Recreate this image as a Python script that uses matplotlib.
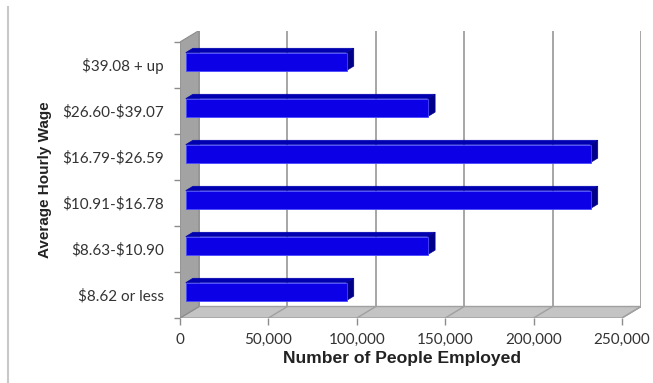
import matplotlib.pyplot as plt
from matplotlib.patches import Polygon
from matplotlib.lines import Line2D

plt.rcParams['text.parse_math'] = False  # знаки $ в подписях

# данные (снизу вверх)
wages = ['$8.62 or less', '$8.63-$10.90', '$10.91-$16.78',
         '$16.79-$26.59', '$26.60-$39.07', '$39.08 + up']
employed = [91000, 137000, 229000, 229000, 137000, 91000]
xticks = [0, 50000, 100000, 150000, 200000, 250000]
xlabels = ['0', '50,000', '100,000', '150,000', '200,000', '250,000']

# псевдо-3D: смещение "глубины" в единицах осей
DX = 10750
DY = 0.25
XMAX = 250000

fig = plt.figure(figsize=(6.53, 3.83), dpi=100)
W, H = 653, 383
ax = fig.add_axes([180 / W, (H - 318) / H, 461 / W, 287.5 / H])
ax.set_xlim(0, XMAX + DX)
ax.set_ylim(-0.5, 5.5 + DY)
for s in ax.spines.values():
    s.set_visible(False)

grid_c = '#a6a6a6'

def p(x, y, d):
    return (x + d * DX, y + d * DY)

# задняя стенка - линии сетки
for t in xticks:
    ax.plot([t + DX, t + DX], [-0.5 + DY, 5.5 + DY], color=grid_c, lw=1.4, zorder=1)

# пол
floor = Polygon([p(0, -0.5, 0), p(XMAX, -0.5, 0), p(XMAX, -0.5, 1), p(0, -0.5, 1)],
                closed=True, facecolor='#c4c4c4', edgecolor='#a0a0a0', lw=1, zorder=2)
ax.add_patch(floor)
for t in xticks:
    ax.plot([t, t + DX], [-0.5, -0.5 + DY], color='#a0a0a0', lw=1, zorder=2)

# боковая стенка
wall = Polygon([p(0, -0.5, 0), p(0, 5.5, 0), p(0, 5.5, 1), p(0, -0.5, 1)],
               closed=True, facecolor='#a3a3a3', edgecolor='#8c8c8c', lw=0.8, zorder=3)
ax.add_patch(wall)

# столбцы
d0, d1, h = 0.3, 0.68, 0.195
for i, v in enumerate(employed):
    front = Polygon([p(0, i - h, d0), p(v, i - h, d0), p(v, i + h, d0), p(0, i + h, d0)],
                    closed=True, facecolor='#0c00e6', edgecolor='#4a4aff', lw=0.6, zorder=5)
    top = Polygon([p(0, i + h, d0), p(v, i + h, d0), p(v, i + h, d1), p(0, i + h, d1)],
                  closed=True, facecolor='#0000b0', edgecolor='#0000b0', lw=0.4, zorder=4)
    side = Polygon([p(v, i - h, d0), p(v, i + h, d0), p(v, i + h, d1), p(v, i - h, d1)],
                   closed=True, facecolor='#00008a', edgecolor='#00008a', lw=0.4, zorder=4)
    ax.add_patch(top)
    ax.add_patch(side)
    ax.add_patch(front)

# оси
tick_font = 'Lato'
ax.set_xticks(xticks)
ax.set_xticklabels(xlabels, fontsize=11, family=tick_font, color='#333333')
ax.tick_params(axis='x', length=5, width=1, color='#8c8c8c', pad=6)
ax.set_yticks(range(len(wages)))
ax.set_yticklabels(wages, fontsize=11, family=tick_font, color='#333333')
ax.set_yticks([k - 0.5 for k in range(len(wages) + 1)], minor=True)
ax.tick_params(axis='y', which='major', length=0, pad=11.5)
ax.tick_params(axis='y', which='minor', length=4, width=1, color='#8c8c8c')

ax.set_xlabel('Number of People Employed', fontsize=12.6, fontweight='bold',
              family='Liberation Sans', color='#222222', va='center', ha='center')
ax.xaxis.set_label_coords((402 - 180) / 461, (318 - 358) / 287.5)
ax.set_ylabel('Average Hourly Wage', fontsize=11, fontweight='bold',
              family='Liberation Sans', color='#222222', va='center', ha='center')
ax.yaxis.set_label_coords((45 - 180) / 461, (318 - 180) / 287.5)

# рамка слева
fig.add_artist(Line2D([7.5 / W, 7.5 / W], [0, (H - 7) / H], color='#c8c8c8', lw=1.5))

fig.savefig('out.png', dpi=100)
